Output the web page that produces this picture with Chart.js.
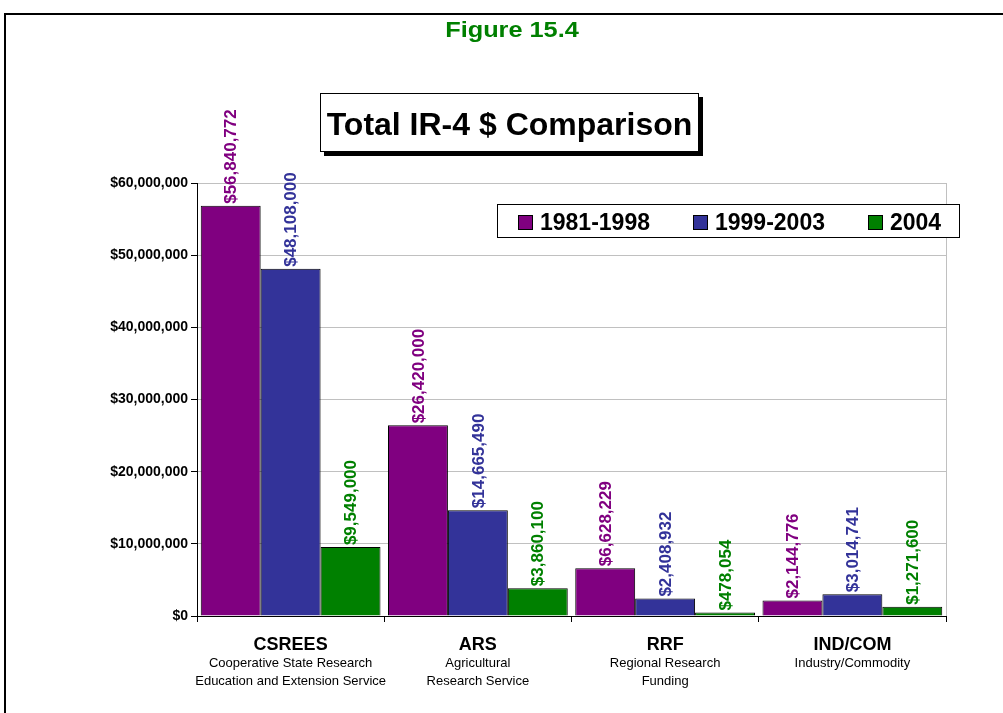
<!DOCTYPE html>
<html>
<head>
<meta charset="utf-8">
<script src="https://cdn.jsdelivr.net/npm/chart.js@4/dist/chart.umd.min.js"></script>
<style>
  html, body { margin: 0; padding: 0; background: #fff; }
  #wrap { width: 1003px; height: 713px; position: relative; }
</style>
</head>
<body>
<div id="wrap"><canvas id="c" width="1003" height="713"></canvas></div>
<script>
// ---- data ----
const categories = ["CSREES", "ARS", "RRF", "IND/COM"];
const categorySubtitles = [
  ["Cooperative State Research", "Education and Extension Service"],
  ["Agricultural", "Research Service"],
  ["Regional Research", "Funding"],
  ["Industry/Commodity"]
];
const seriesNames = ["1981-1998", "1999-2003", "2004"];
const values1981_1998 = [56840772, 26420000, 6628229, 2144776];
const values1999_2003 = [48108000, 14665490, 2408932, 3014741];
const values2004 = [9549000, 3860100, 478054, 1271600];
const seriesColors = ["#800080", "#333399", "#008000"];
const yTicks = [0, 10000000, 20000000, 30000000, 40000000, 50000000, 60000000];
const figureLabel = "Figure 15.4";
const chartTitle = "Total IR-4 $ Comparison";

const FONT = '"Liberation Sans", Arial, Helvetica, sans-serif';
const fmt = v => '$' + Number(v).toLocaleString('en-US');

const seriesValues = [values1981_1998, values1999_2003, values2004];

const decorPlugin = {
  id: 'decor',
  beforeDraw(chart) {
    const ctx = chart.ctx;
    ctx.save();
    ctx.fillStyle = '#fff';
    ctx.fillRect(0, 0, chart.width, chart.height);
    ctx.restore();
  },
  afterDraw(chart) {
    const ctx = chart.ctx;
    const ca = chart.chartArea;
    const xs = chart.scales.x;
    ctx.save();

    // outer frame
    ctx.strokeStyle = '#000';
    ctx.lineWidth = 2;
    ctx.beginPath();
    ctx.moveTo(5, chart.height);
    ctx.lineTo(5, 14);
    ctx.lineTo(chart.width, 14);
    ctx.stroke();

    // plot right border
    ctx.strokeStyle = '#c0c0c0';
    ctx.lineWidth = 1;
    ctx.beginPath();
    ctx.moveTo(Math.round(ca.right) + 0.5, ca.top);
    ctx.lineTo(Math.round(ca.right) + 0.5, ca.bottom);
    ctx.stroke();

    // Figure label
    ctx.fillStyle = '#008000';
    ctx.font = 'bold 22px ' + FONT;
    ctx.textAlign = 'center';
    ctx.textBaseline = 'alphabetic';
    ctx.save();
    ctx.translate(512, 37);
    ctx.scale(1.15, 1);
    ctx.fillText(figureLabel, 0, 0);
    ctx.restore();

    // title box with shadow
    ctx.fillStyle = '#000';
    ctx.fillRect(324, 97, 379, 59);
    ctx.fillStyle = '#fff';
    ctx.fillRect(320.5, 93.5, 378, 58);
    ctx.strokeStyle = '#000';
    ctx.lineWidth = 1;
    ctx.strokeRect(320.5, 93.5, 378, 58);
    ctx.fillStyle = '#000';
    ctx.font = 'bold 32px ' + FONT;
    ctx.textAlign = 'center';
    ctx.fillText(chartTitle, 509.5, 135);

    // legend
    ctx.fillStyle = '#fff';
    ctx.fillRect(497.5, 204.5, 462, 33);
    ctx.strokeStyle = '#000';
    ctx.strokeRect(497.5, 204.5, 462, 33);
    const legX = [518, 693, 868];
    ctx.font = 'bold 23px ' + FONT;
    ctx.textAlign = 'left';
    seriesNames.forEach((name, i) => {
      ctx.fillStyle = seriesColors[i];
      ctx.fillRect(legX[i] + 0.5, 215.5, 14, 14);
      ctx.strokeStyle = '#000';
      ctx.strokeRect(legX[i] + 0.5, 215.5, 14, 14);
      ctx.fillStyle = '#000';
      ctx.fillText(name, legX[i] + 22, 230);
    });

    // category labels
    categories.forEach((cat, i) => {
      const cx = xs.getPixelForValue(i);
      ctx.fillStyle = '#000';
      ctx.textAlign = 'center';
      ctx.font = 'bold 18px ' + FONT;
      ctx.fillText(cat, cx, 650);
      ctx.font = '13px ' + FONT;
      categorySubtitles[i].forEach((line, j) => {
        ctx.fillText(line, cx, 667 + j * 18);
      });
    });

    ctx.restore();
  },
  afterDatasetsDraw(chart) {
    const ctx = chart.ctx;
    ctx.save();
    ctx.font = 'bold 17px ' + FONT;
    ctx.textAlign = 'left';
    ctx.textBaseline = 'middle';
    chart.data.datasets.forEach((ds, di) => {
      const meta = chart.getDatasetMeta(di);
      meta.data.forEach((el, i) => {
        ctx.save();
        ctx.translate(el.x + 1, el.y - 2);
        ctx.rotate(-Math.PI / 2);
        ctx.fillStyle = seriesColors[di];
        ctx.fillText(fmt(ds.data[i]), 0, 0);
        ctx.restore();
      });
    });
    ctx.restore();
  }
};

new Chart(document.getElementById('c'), {
  type: 'bar',
  data: {
    labels: categories,
    datasets: seriesNames.map((name, i) => ({
      label: name,
      data: seriesValues[i],
      backgroundColor: seriesColors[i],
      borderColor: '#000',
      borderWidth: 1,
      barPercentage: 1,
      categoryPercentage: 0.96
    }))
  },
  options: {
    responsive: false,
    devicePixelRatio: 1,
    animation: false,
    layout: { padding: { top: 183, right: 57, bottom: 0, left: 0 } },
    plugins: { legend: { display: false }, title: { display: false }, tooltip: { enabled: false } },
    scales: {
      x: {
        offset: true,
        grid: { offset: true, drawOnChartArea: false, drawTicks: true, tickLength: 6, tickColor: '#000' },
        border: { color: '#000', width: 1 },
        ticks: { display: false },
        afterFit(scale) { scale.height = 97; }
      },
      y: {
        min: 0,
        max: 60000000,
        afterBuildTicks(scale) { scale.ticks = yTicks.map(v => ({ value: v })); },
        grid: { color: '#c0c0c0', tickColor: '#000', tickLength: 6, drawTicks: true },
        border: { color: '#000', width: 1 },
        ticks: {
          color: '#000',
          padding: 3,
          font: { family: FONT, size: 14, weight: 'bold' },
          callback: v => fmt(v)
        },
        afterFit(scale) { scale.width = 197; }
      }
    }
  },
  plugins: [decorPlugin]
});
</script>
</body>
</html>
